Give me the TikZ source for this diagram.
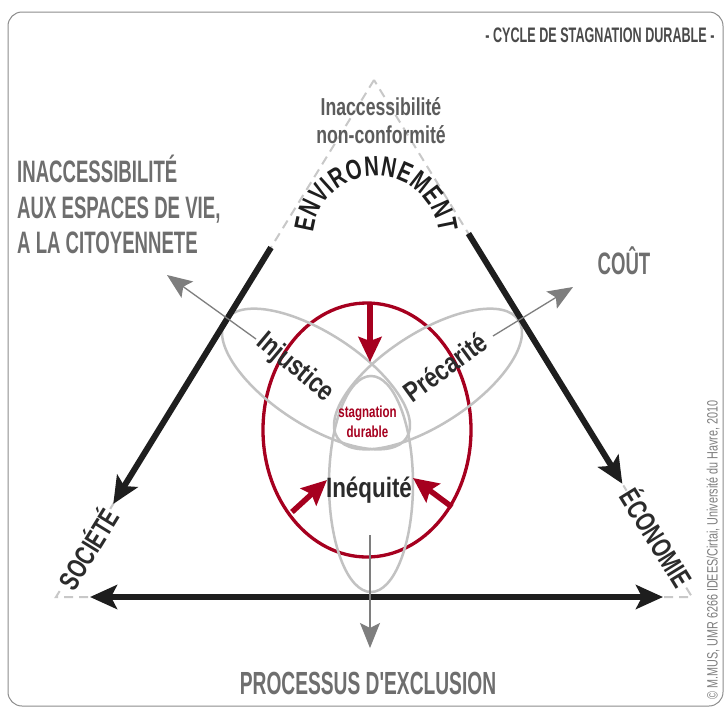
\documentclass[tikz,border=0pt]{standalone}
\usepackage{fontspec}
\newfontfamily\condA[FakeStretch=0.6]{Liberation Sans}
\newfontfamily\condB[FakeStretch=0.72]{Liberation Sans}
\newfontfamily\condC[FakeStretch=0.8]{Liberation Sans}
\usetikzlibrary{arrows.meta,calc}
\definecolor{blk}{HTML}{1E1E1E}
\definecolor{dashgrey}{HTML}{C8C8C8}
\definecolor{petalgrey}{HTML}{C2C2C2}
\definecolor{arrowgrey}{HTML}{7E7E7E}
\definecolor{txtgrey}{HTML}{6E6E6E}
\definecolor{lbl}{HTML}{2B2B2B}
\definecolor{titlegrey}{HTML}{4A4A4A}
\definecolor{midgrey}{HTML}{5C5C5C}
\definecolor{crimson}{HTML}{A6001F}
\definecolor{framegrey}{HTML}{8C8C8C}
\tikzset{
  frame/.style={draw=framegrey, line width=1pt, rounded corners=14pt},
  dashline/.style={draw=dashgrey, line width=2pt, dash pattern=on 9pt off 6pt},
  bigarrow/.style={draw=blk, line width=6pt, -{Stealth[length=27pt,width=24pt,inset=6pt]}},
  bigdouble/.style={draw=blk, line width=6pt, {Stealth[length=27pt,width=24pt,inset=6pt]}-{Stealth[length=27pt,width=24pt,inset=6pt]}},
  greyarrow/.style={draw=arrowgrey, line width=1.3pt, -{Stealth[length=25pt,width=20pt,inset=5pt]}},
  redarrow/.style={draw=crimson, line width=5.5pt, -{Stealth[length=25pt,width=23pt,inset=4pt]}},
  petal/.style={draw=petalgrey, line width=2.5pt},
  redring/.style={draw=crimson, line width=3.3pt},
  greytext/.style={text=txtgrey, inner sep=0pt, font=\condA\bfseries\fontsize{31}{35}\selectfont},
  petallabel/.style={text=lbl, inner sep=0pt, font=\condC\bfseries\fontsize{28}{30}\selectfont},
  cornerlabel/.style={text=lbl, fill=white, inner sep=1pt, font=\condB\bfseries\fontsize{28}{30}\selectfont},
  redlabel/.style={text=crimson, inner sep=0pt, font=\condB\bfseries\fontsize{16}{18}\selectfont},
  toplabel/.style={text=midgrey, inner sep=0pt, font=\condB\bfseries\fontsize{24.5}{26}\selectfont},
  envl/.style={anchor=base, inner sep=0pt, text=blk, font=\condB\bfseries\fontsize{28}{28}\selectfont},
}
\begin{document}
\begin{tikzpicture}[x=1pt,y=-1pt]
\useasboundingbox (0,0) rectangle (726,713);
\fill[white] (0,0) rectangle (726,713);
\draw[frame] (8,12) rectangle (723,706);

% title
\node[text=titlegrey, inner sep=0pt, anchor=base, font=\condA\bfseries\fontsize{21}{23}\selectfont] (title) at (600,42) {- CYCLE DE STAGNATION DURABLE -};

% triangle
\coordinate (A) at (374,80);
\coordinate (L) at (56,597);
\coordinate (R) at (692,597);
\draw[dashline] (A) -- (L) -- (R) -- cycle;

% inner red ring and petals
\draw[redring] (367,430) ellipse [x radius=104, y radius=127];
\draw[petal] (316,379) ellipse [x radius=108, y radius=46, rotate=-33];
\draw[petal] (428,379) ellipse [x radius=108, y radius=46, rotate=33];
\draw[petal] (371,484) ellipse [x radius=42, y radius=108];

% black side arrows
\coordinate (Lstart) at ($(A)!0.324!(L)$);
\coordinate (Lend) at ($(A)!0.82!(L)$);
\coordinate (Rstart) at ($(A)!0.297!(R)$);
\coordinate (Rend) at ($(A)!0.781!(R)$);
\coordinate (Bl) at (90,597);
\coordinate (Br) at (663,597);
\draw[bigarrow] (Lstart) -- (Lend);
\draw[bigarrow] (Rstart) -- (Rend);
\draw[bigdouble] (Bl) -- (Br);

% grey arrows
\coordinate (g1s) at (256,339); \coordinate (g1e) at (167,275);
\coordinate (g2s) at (493,336); \coordinate (g2e) at (573,287);
\coordinate (g3s) at (370,535); \coordinate (g3e) at (370,648);
\draw[greyarrow] (g1s) -- (g1e);
\draw[greyarrow] (g2s) -- (g2e);
\draw[greyarrow] (g3s) -- (g3e);

% red arrows
\coordinate (r1s) at (370,303); \coordinate (r1e) at (370,362);
\coordinate (r2s) at (292,512); \coordinate (r2e) at (327,480);
\coordinate (r3s) at (452,507); \coordinate (r3e) at (413,478);
\draw[redarrow] (r1s) -- (r1e);
\draw[redarrow] (r2s) -- (r2e);
\draw[redarrow] (r3s) -- (r3e);

% labels
\node[petallabel, rotate=-40] (inj) at (295,368) {Injustice};
\node[petallabel, rotate=36] (prec) at (445,367) {Précarité};
\node[petallabel, anchor=base] (ineq) at (369,497) {Inéquité};
\node[redlabel, anchor=base] (stag) at (367.5,417) {stagnation};
\node[redlabel, anchor=base] (dur) at (367.5,437) {durable};

\node[toplabel, anchor=base] (inacc) at (381,115) {Inaccessibilité};
\node[toplabel, anchor=base] (nonc) at (381,143) {non-conformité};

% curved ENVIRONNEMENT, letter by letter on a circle
\foreach \ch/\ang [count=\i] in {E/168.0, N/154.7, V/141.4, I/132.1, R/122.2, O/107.9, N/93.5, N/79.7, E/66.4, M/52.0, E/37.6, N/24.3, T/11.5}
  \node[envl, rotate=\ang-90] (env\i) at ({376+63*cos(\ang)},{239-63*sin(\ang)}) {\ch};

\node[cornerlabel, rotate=58.4] (soc) at (87,548) {SOCIÉTÉ};
\node[cornerlabel, rotate=-58.4] (eco) at (658,537) {ÉCONOMIE};

\node[greytext, anchor=base west] (l1) at (17,182.5) {INACCESSIBILITÉ};
\node[greytext, anchor=base west] (l2) at (17,218.5) {AUX ESPACES DE VIE,};
\node[greytext, anchor=base west] (l3) at (17,253) {A LA CITOYENNETE};

\node[greytext, anchor=base] (cout) at (624,274) {COÛT};
\node[greytext, anchor=base, font=\condA\bfseries\fontsize{32}{34}\selectfont] (proc) at (368,694.5) {PROCESSUS D'EXCLUSION};

\node[text=arrowgrey, inner sep=0pt, rotate=90, font=\condB\fontsize{15}{16}\selectfont] (copy) at (713,550) {© M.MUS, UMR 6266 IDEES/Cirtai, Université du Havre, 2010};
\end{tikzpicture}
\end{document}
